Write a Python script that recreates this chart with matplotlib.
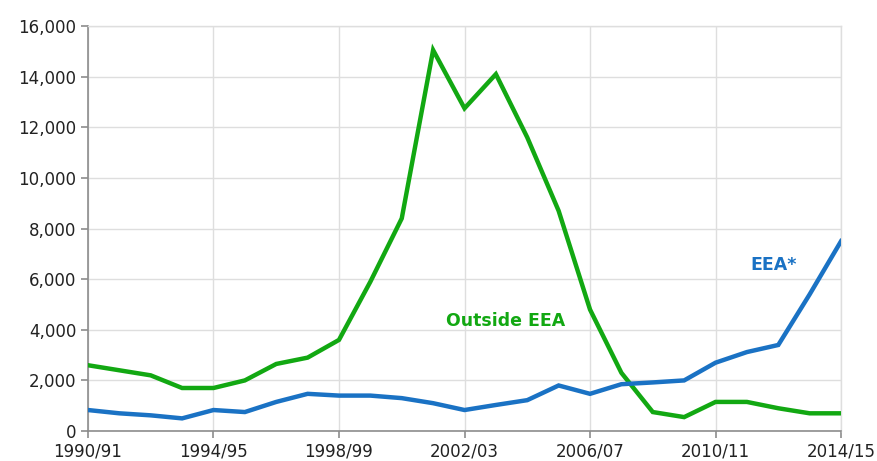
import matplotlib
matplotlib.use("Agg")
import matplotlib.pyplot as plt
import numpy as np

years = ["1990/91", "1991/92", "1992/93", "1993/94", "1994/95", "1995/96", "1996/97",
         "1997/98", "1998/99", "1999/00", "2000/01", "2001/02", "2002/03", "2003/04",
         "2004/05", "2005/06", "2006/07", "2007/08", "2008/09", "2009/10", "2010/11",
         "2011/12", "2012/13", "2013/14", "2014/15"]

outside_eea = [2600, 2400, 2200, 1700, 1700, 2000, 2650, 2900, 3600, 5900, 8400,
               15050, 12750, 14100, 11600, 8700, 4800, 2300, 750, 550, 1150,
               1150, 900, 700, 700]
eea = [830, 700, 620, 500, 830, 750, 1150, 1470, 1400, 1400, 1300, 1100, 830,
       1030, 1220, 1800, 1470, 1850, 1920, 2000, 2700, 3120, 3400, 5400, 7500]

green = "#12a812"
blue = "#1a72c4"

fig = plt.figure(figsize=(8.77, 4.61), dpi=100)
ax = fig.add_axes([0.1003, 0.065, 0.8587, 0.8785])

x = np.arange(len(years))
ax.plot(x, outside_eea, color=green, lw=3.2, solid_joinstyle="miter", zorder=3)
ax.plot(x, eea, color=blue, lw=3.2, solid_joinstyle="miter", zorder=3)

ax.set_xlim(0, len(years) - 1)
ax.set_ylim(0, 16000)
ax.set_xticks(x[::4])
ax.set_xticklabels(years[::4])
ax.set_yticks(np.arange(0, 16001, 2000))
ax.set_yticklabels([f"{v:,}" for v in range(0, 16001, 2000)])

ax.grid(True, color="#dedede", lw=1)
ax.set_axisbelow(True)
for side in ["top", "right"]:
    ax.spines[side].set_color("#dedede")
    ax.spines[side].set_linewidth(1)
for side in ["left", "bottom"]:
    ax.spines[side].set_color("#8c8c8c")
    ax.spines[side].set_linewidth(1.2)
ax.tick_params(axis="both", colors="#8c8c8c", length=5, width=1.2,
               labelsize=12, labelcolor="#222222")
ax.tick_params(axis="x", pad=3)

ax.text(13.3, 4350, "Outside EEA", color=green, fontsize=12.5, fontweight="bold",
        ha="center", va="center")
ax.text(21.85, 6560, "EEA*", color=blue, fontsize=12.5, fontweight="bold",
        ha="center", va="center")

fig.savefig("out.png", dpi=100)
